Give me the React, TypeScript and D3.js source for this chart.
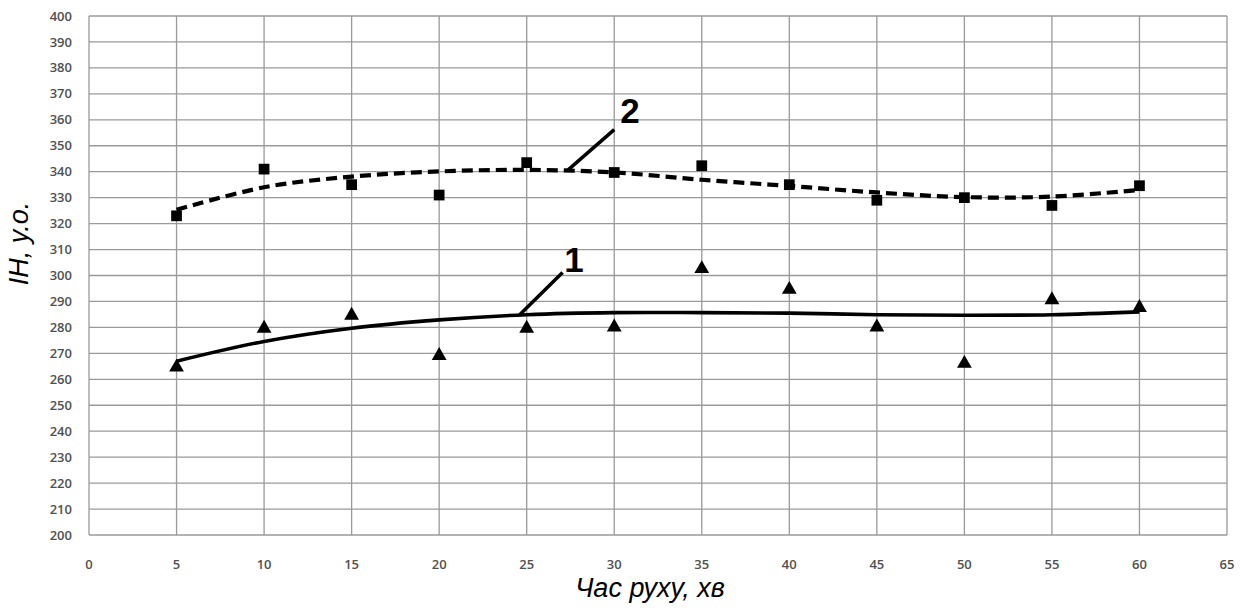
import React from 'react';
import * as d3 from 'd3';

// measured times, min
const times = [5, 10, 15, 20, 25, 30, 35, 40, 45, 50, 55, 60];
// series 1 (triangles) and series 2 (squares)
const series1 = [265, 280, 285, 269.5, 280, 280.5, 303, 295, 280.5, 266.5, 291, 288];
const series2 = [323, 341, 335, 331, 343.5, 339.7, 342.3, 335, 329, 330, 327, 334.6];
// trend lines
const trend1 = [267, 274.6, 279.7, 282.9, 284.9, 285.7, 285.7, 285.5, 284.9, 284.7, 284.9, 286];
const trend2 = [325.3, 334, 338.1, 340.1, 340.7, 339.7, 336.9, 334.5, 332, 330.2, 330.4, 333];

const xTicks = d3.range(0, 66, 5);
const yTicks = d3.range(200, 401, 10);

// curve labels: anchor on the line, end of leader, label position
const labels = [
  { name: '1', from: [24.6, 284.9], to: [27.05, 301.2], text: [27.15, 301.3] },
  { name: '2', from: [27.3, 340.3], to: [30.0, 356.2], text: [30.35, 358.7] },
];

const W = 1240;
const H = 610;
const margin = { top: 16, right: 13, bottom: 75, left: 89 };

const App = () => {
  const x = d3.scaleLinear().domain([0, 65]).range([margin.left, W - margin.right]);
  const y = d3.scaleLinear().domain([200, 400]).range([H - margin.bottom, margin.top]);

  const line = d3.line<number>()
    .x((_, i) => x(times[i]))
    .y(d => y(d))
    .curve(d3.curveCatmullRom);

  const tri = d3.symbol().type(d3.symbolTriangle).size(95)();
  const sq = d3.symbol().type(d3.symbolSquare).size(115)();

  const grid = '#9a9a9a';
  const tickColor = '#505050';

  return (
    <svg width={W} height={H} style={{ position: 'absolute', left: 0, top: 0, background: '#fff' }}>
      <g>
        {yTicks.map(t => (
          <line key={'gy' + t} x1={x(0)} x2={x(65)} y1={y(t)} y2={y(t)} stroke={grid} strokeWidth={1.3} />
        ))}
        {xTicks.map(t => (
          <line key={'gx' + t} x1={x(t)} x2={x(t)} y1={y(200)} y2={y(400)} stroke={grid} strokeWidth={1.3} />
        ))}
      </g>
      <g fontFamily="'Open Sans', 'Liberation Sans', Arial, sans-serif" fontSize={13} fontWeight={600} fill={tickColor}>
        {yTicks.map(t => (
          <text key={'ly' + t} x={x(0) - 17} y={y(t)} dy="0.35em" textAnchor="end">{t}</text>
        ))}
        {xTicks.map(t => (
          <text key={'lx' + t} x={x(t)} y={y(200) + 29} dy="0.35em" textAnchor="middle">{t}</text>
        ))}
      </g>

      <path d={line(trend1) || ''} fill="none" stroke="#000" strokeWidth={3.6} />
      <path d={line(trend2) || ''} fill="none" stroke="#000" strokeWidth={4.2} strokeDasharray="11,6" />

      {series1.map((v, i) => (
        <path key={'t' + i} d={tri || ''} transform={`translate(${x(times[i])},${y(v) + 1})`} fill="#000" />
      ))}
      {series2.map((v, i) => (
        <path key={'s' + i} d={sq || ''} transform={`translate(${x(times[i])},${y(v)})`} fill="#000" />
      ))}

      {labels.map(l => (
        <g key={l.name}>
          <line x1={x(l.from[0])} y1={y(l.from[1])} x2={x(l.to[0])} y2={y(l.to[1])} stroke="#000" strokeWidth={3.5} />
          <text x={x(l.text[0])} y={y(l.text[1])} fontFamily="'Liberation Sans', Arial, sans-serif"
            fontWeight="bold" fontSize={35} fill="#000">{l.name}</text>
        </g>
      ))}

      <text transform={`translate(28,${(y(200) + y(400)) / 2 - 32}) rotate(-90)`} textAnchor="middle"
        fontFamily="'Liberation Sans', Arial, sans-serif" fontStyle="italic" fontSize={27} fill="#000">ІН, у.о.</text>
      <text x={(x(0) + x(65)) / 2 - 8} y={597} textAnchor="middle"
        fontFamily="'Liberation Sans', Arial, sans-serif" fontStyle="italic" fontSize={27} fill="#000">Час руху, хв</text>
    </svg>
  );
};

export default App;
